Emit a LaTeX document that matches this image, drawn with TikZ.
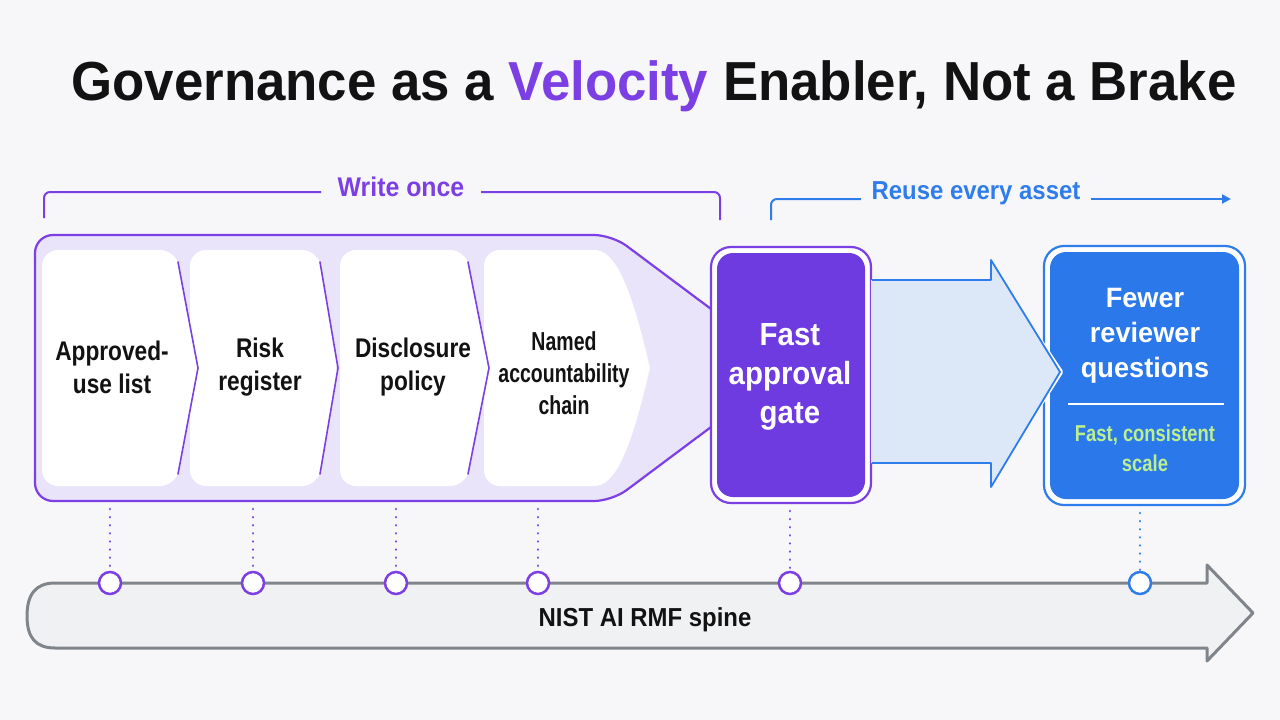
\documentclass[tikz,border=0pt]{standalone}
\usepackage{fontspec}
\setmainfont{Liberation Sans}
\newfontfamily\ftitle[FakeStretch=0.96]{Liberation Sans}
\newfontfamily\fcard[FakeStretch=0.84]{Liberation Sans}
\newfontfamily\fcardn[FakeStretch=0.75]{Liberation Sans}
\newfontfamily\fgate[FakeStretch=0.92]{Liberation Sans}
\newfontfamily\ffew[FakeStretch=0.97]{Liberation Sans}
\newfontfamily\fgreen[FakeStretch=0.80]{Liberation Sans}
\newfontfamily\flab[FakeStretch=0.92]{Liberation Sans}
\usetikzlibrary{arrows.meta}
\definecolor{bg}{HTML}{F7F7FA}
\definecolor{vio}{HTML}{7B3FE4}
\definecolor{viofill}{HTML}{6D3BE0}
\definecolor{lav}{HTML}{E9E4F9}
\definecolor{blu}{HTML}{2F7DEB}
\definecolor{blufill}{HTML}{2A78EA}
\definecolor{arrfill}{HTML}{DCE7F8}
\definecolor{grn}{HTML}{BCEF90}
\definecolor{spinegray}{HTML}{80848B}
\definecolor{spinefill}{HTML}{F0F1F3}
\definecolor{ink}{HTML}{121212}
\tikzset{
  cardtxt/.style={align=center, text=ink, inner sep=0pt, font=\fcard\bfseries\fontsize{27}{33}\selectfont},
  cardtxtn/.style={align=center, text=ink, inner sep=0pt, font=\fcardn\bfseries\fontsize{26}{32}\selectfont},
  chev/.style={vio, line width=1.6pt, line cap=round},
  dotline/.style={line width=2.6pt, line cap=round, dash pattern=on 0.1pt off 8pt},
  dotc/.style={circle, minimum size=22pt, inner sep=0pt, fill=white, line width=2.5pt},
  bracket/.style={line width=2pt, rounded corners=6pt},
}
\begin{document}
\begin{tikzpicture}[x=1pt,y=-1pt]
\fill[bg] (0,0) rectangle (1280,720);
\useasboundingbox (0,0) rectangle (1280,720);

% title
\node[text=ink, inner sep=0pt, font=\ftitle\bfseries\fontsize{55}{60}\selectfont] (title) at (654,86)
  {Governance as a \textcolor{vio}{Velocity} Enabler, Not a Brake};

% write once bracket
\node[text=vio, inner sep=0pt, font=\flab\bfseries\fontsize{27}{30}\selectfont] (wo) at (401,187) {Write once};
\coordinate (woA) at (44,218);
\coordinate (woB) at (321,192);
\coordinate (woC) at (481,192);
\coordinate (woD) at (720,220);
\draw[vio, bracket] (woA) |- (woB);
\draw[vio, bracket] (woC) -| (woD);

% reuse bracket
\node[text=blu, inner sep=0pt, font=\flab\bfseries\fontsize{26}{30}\selectfont] (re) at (976,193) {Reuse every asset};
\coordinate (reA) at (771,220);
\coordinate (reB) at (861,199);
\coordinate (reC) at (1091,199);
\coordinate (reD) at (1231,199);
\draw[blu, bracket] (reA) |- (reB);
\draw[blu, line width=2pt, -{Triangle[length=9pt,width=9pt]}] (reC) -- (reD);

% spine
\draw[spinegray, line width=3pt, fill=spinefill, line join=round]
  (55,583) -- (1207,583) -- (1207,565) -- (1253,613) -- (1207,661) -- (1207,648) -- (55,648)
  .. controls (36,648) and (27,638) .. (27,616) .. controls (27,594) and (36,583) .. (55,583) -- cycle;
\node[text=ink, inner sep=0pt, font=\flab\bfseries\fontsize{26}{30}\selectfont] (spine) at (645,620) {NIST AI RMF spine};

% container
\draw[vio, line width=2.2pt, fill=lav, rounded corners=18pt]
  (35,368) -- (35,235) -- (612,235) -- (790,368) -- (612,501) -- (35,501) -- cycle;

% cards
\fill[white, rounded corners=16pt] (42,368) -- (42,250) -- (176,250) -- (198,368) -- (176,486) -- (42,486) -- cycle;
\fill[white, rounded corners=16pt] (190,368) -- (190,250) -- (318,250) -- (338,368) -- (318,486) -- (190,486) -- cycle;
\fill[white, rounded corners=16pt] (340,368) -- (340,250) -- (466,250) -- (489,368) -- (466,486) -- (340,486) -- cycle;
\fill[white] (500,250) -- (596,250)
  .. controls (622,252) and (638,318) .. (650,368)
  .. controls (638,418) and (622,484) .. (596,486) -- (500,486)
  .. controls (491,486) and (484,479) .. (484,470) -- (484,266)
  .. controls (484,257) and (491,250) .. (500,250) -- cycle;
\draw[chev] (178,262) -- (198,368) -- (178,474);
\draw[chev] (320,262) -- (338,368) -- (320,474);
\draw[chev] (468,262) -- (489,368) -- (468,474);

\node[cardtxt] (c1) at (112,367) {Approved-\\use list};
\node[cardtxt] (c2) at (260,367) {Risk\\register};
\node[cardtxt] (c3) at (413,367) {Disclosure\\policy};
\node[cardtxtn] (c4) at (564,373) {Named\\accountability\\chain};

% fast approval gate
\draw[vio, line width=2.2pt, fill=white, rounded corners=20pt] (711,247) rectangle (871,503);
\fill[viofill, rounded corners=16pt] (717,253) rectangle (865,497);
\node[text=white, align=center, inner sep=0pt, font=\fgate\bfseries\fontsize{32}{39}\selectfont] (gate) at (790,377) {Fast\\approval\\gate};

% fewer reviewer questions box
\draw[blu, line width=2.2pt, fill=white, rounded corners=20pt] (1044,246) rectangle (1245,505);
\fill[blufill, rounded corners=16pt] (1050,252) rectangle (1239,499);
\node[text=white, align=center, inner sep=0pt, font=\ffew\bfseries\fontsize{28}{35}\selectfont] (few) at (1145,336) {Fewer\\reviewer\\questions};
\coordinate (ruleL) at (1068,404);
\coordinate (ruleR) at (1224,404);
\draw[white, line width=1.6pt] (ruleL) -- (ruleR);
\node[text=grn, align=center, inner sep=0pt, font=\fgreen\bfseries\fontsize{23}{30}\selectfont] (fcs) at (1145,448) {Fast, consistent\\scale};

% big blue arrow
\draw[white, line width=6pt, line join=round] (991,268) -- (1060,372) -- (991,480);
\fill[arrfill] (871,280) -- (991,280) -- (991,260) -- (1060,372) -- (991,487) -- (991,463) -- (871,463) -- cycle;
\draw[blu, line width=1.8pt, line join=round] (872,280) -- (991,280) -- (991,260) -- (1060,372) -- (991,487) -- (991,463) -- (872,463);

% dotted connectors and circles
\node[dotc, draw=vio] (d1) at (110,583) {};
\node[dotc, draw=vio] (d2) at (253,583) {};
\node[dotc, draw=vio] (d3) at (396,583) {};
\node[dotc, draw=vio] (d4) at (538,583) {};
\node[dotc, draw=vio] (d5) at (790,583) {};
\node[dotc, draw=blu] (d6) at (1140,583) {};
\coordinate (t1) at (110,509);
\coordinate (t2) at (253,509);
\coordinate (t3) at (396,509);
\coordinate (t4) at (538,509);
\coordinate (t5) at (790,511);
\coordinate (t6) at (1140,513);
\foreach \i in {1,...,5}{\draw[vio, dotline] (t\i) -- (d\i.north);}
\draw[blu, dotline] (t6) -- (d6.north);
\end{tikzpicture}
\end{document}
